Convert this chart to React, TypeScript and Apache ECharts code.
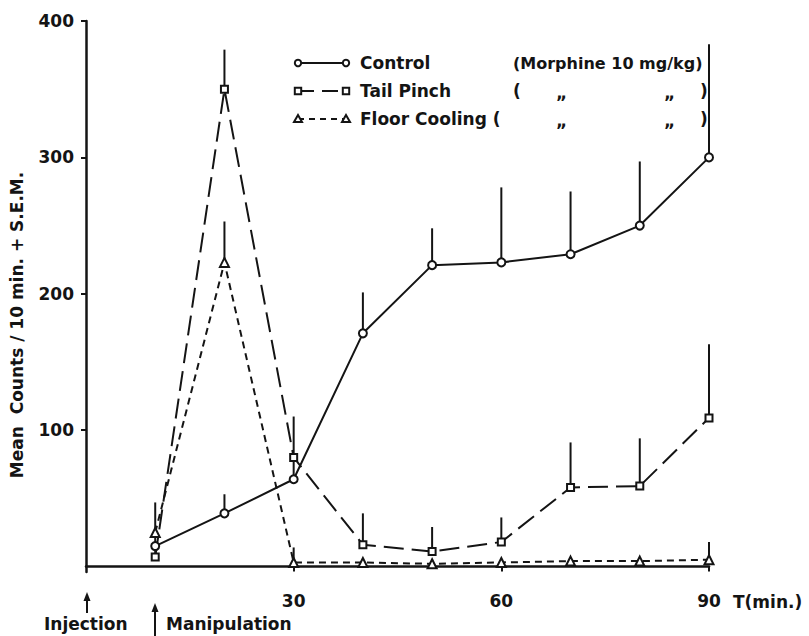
import React, { useEffect, useRef } from "react";
import * as echarts from "echarts";

const times = [10, 20, 30, 40, 50, 60, 70, 80, 90];
const controlMean = [15, 39, 64, 171, 221, 223, 229, 250, 300];
const controlTop = [null, 53, 82, 201, 248, 278, 275, 297, 383];
const tailMean = [7, 350, 80, 16, 11, 18, 58, 59, 109];
const tailTop = [47, 379, 110, 39, 29, 36, 91, 94, 163];
const floorMean = [25, 223, 3, 3, 2, 3, 4, 4, 5];
const floorTop = [null, 253, 14, null, null, null, null, null, 18];

const yTicks = [100, 200, 300, 400];
const xTicks = [30, 60, 90];

const INK = "#141414";
const FONT = "DejaVu Sans";

function errData(means: number[], tops: (number | null)[]) {
  const out: number[][] = [];
  times.forEach((t, i) => {
    const top = tops[i];
    if (top !== null && top !== undefined) out.push([t, means[i], top]);
  });
  return out;
}

function pts(means: number[]) {
  return times.map((t, i) => [t, means[i]]);
}

export default function App() {
  const ref = useRef<HTMLDivElement>(null);
  useEffect(() => {
    document.body.style.margin = "0";
    const chart = echarts.init(ref.current!, null, { renderer: "svg" });

    const errSeries = (name: string, means: number[], tops: (number | null)[]) => ({
      type: "custom",
      name,
      z: 1,
      data: errData(means, tops),
      encode: { x: 0, y: [1, 2] },
      renderItem: (params: any, api: any) => {
        const p1 = api.coord([api.value(0), api.value(1)]);
        const p2 = api.coord([api.value(0), api.value(2)]);
        return {
          type: "line",
          shape: { x1: p1[0], y1: p1[1], x2: p2[0], y2: p2[1] },
          style: { stroke: INK, lineWidth: 2 },
        };
      },
    });

    const marker = { color: "#fff", borderColor: INK, borderWidth: 2 };

    const legendRow = (y: number, dash: number[] | null, symbol: string) => {
      const els: any[] = [
        {
          type: "line",
          shape: { x1: 298, y1: y, x2: 346, y2: y },
          style: { stroke: INK, lineWidth: 2, lineDash: dash || undefined },
        },
      ];
      [298, 346].forEach((x) => {
        if (symbol === "circle")
          els.push({ type: "circle", shape: { cx: x, cy: y, r: 3.2 }, style: { fill: "#fff", stroke: INK, lineWidth: 2 } });
        else if (symbol === "rect")
          els.push({ type: "rect", shape: { x: x - 3.2, y: y - 3.2, width: 6.4, height: 6.4 }, style: { fill: "#fff", stroke: INK, lineWidth: 2 } });
        else
          els.push({ type: "polygon", shape: { points: [[x, y - 4], [x - 4, y + 3], [x + 4, y + 3]] }, style: { fill: "#fff", stroke: INK, lineWidth: 2 } });
      });
      return els;
    };

    const txt = (text: string, x: number, y: number, extra: any = {}) => ({
      type: "text",
      x,
      y,
      style: {
        text,
        fill: INK,
        font: `bold 17px '${FONT}'`,
        textAlign: "left",
        textVerticalAlign: "middle",
        ...extra,
      },
    });

    const arrow = (x: number, yHead: number, yTail: number) => [
      { type: "line", shape: { x1: x, y1: yHead + 4, x2: x, y2: yTail }, style: { stroke: INK, lineWidth: 2 } },
      { type: "polygon", shape: { points: [[x, yHead], [x - 3.5, yHead + 9], [x + 3.5, yHead + 9]] }, style: { fill: INK } },
    ];

    chart.setOption({
      animation: false,
      backgroundColor: "#fff",
      grid: { left: 86, right: 100, top: 21, bottom: 64 },
      xAxis: {
        type: "value",
        min: 0,
        max: 90,
        axisLine: { show: true, lineStyle: { color: INK, width: 2.5 } },
        axisTick: { show: true, length: 5, customValues: xTicks, lineStyle: { color: INK, width: 2 } },
        axisLabel: {
          customValues: xTicks,
          color: INK,
          fontFamily: FONT,
          fontWeight: "bold",
          fontSize: 17,
          margin: 20,
        },
        splitLine: { show: false },
      },
      yAxis: {
        type: "value",
        min: -4,
        max: 400,
        axisLine: { show: true, lineStyle: { color: INK, width: 2.5 } },
        axisTick: { show: true, length: 5, customValues: yTicks, lineStyle: { color: INK, width: 2 } },
        axisLabel: {
          customValues: yTicks,
          color: INK,
          fontFamily: FONT,
          fontWeight: "bold",
          fontSize: 17,
          margin: 12,
        },
        splitLine: { show: false },
      },
      series: [
        errSeries("controlErr", controlMean, controlTop),
        errSeries("tailErr", tailMean, tailTop),
        errSeries("floorErr", floorMean, floorTop),
        {
          type: "line",
          name: "Control",
          z: 3,
          data: pts(controlMean),
          symbol: "circle",
          symbolSize: 8,
          itemStyle: marker,
          lineStyle: { color: INK, width: 2, type: "solid" },
        },
        {
          type: "line",
          name: "Tail Pinch",
          z: 3,
          data: pts(tailMean),
          symbol: "rect",
          symbolSize: 7,
          itemStyle: marker,
          lineStyle: { color: INK, width: 2, type: [20, 8] },
        },
        {
          type: "line",
          name: "Floor Cooling",
          z: 3,
          data: pts(floorMean),
          symbol: "triangle",
          symbolSize: 9,
          itemStyle: marker,
          lineStyle: { color: INK, width: 2, type: [7, 5] },
        },
      ],
      graphic: [
        ...legendRow(63, null, "circle"),
        ...legendRow(91, [16, 8], "rect"),
        ...legendRow(119, [6, 5], "triangle"),
        txt("Control", 360, 63),
        txt("(Morphine 10 mg/kg)", 513, 63, { font: `bold 16px '${FONT}'` }),
        txt("Tail Pinch", 360, 91),
        txt("(", 513, 91),
        txt("„", 556, 93),
        txt("„", 664, 93),
        txt(")", 700, 91),
        txt("Floor Cooling (", 360, 119),
        txt("„", 556, 121),
        txt("„", 664, 121),
        txt(")", 700, 119),
        {
          type: "text",
          x: 17,
          y: 325,
          rotation: Math.PI / 2,
          style: {
            text: "Mean  Counts / 10 min. + S.E.M.",
            fill: INK,
            font: `bold 17px '${FONT}'`,
            textAlign: "center",
            textVerticalAlign: "middle",
          },
        },
        txt("T(min.)", 733, 602),
        ...arrow(87, 592, 613),
        ...arrow(155, 603, 636),
        txt("Injection", 44, 624),
        txt("Manipulation", 166, 624),
      ],
    });
    return () => chart.dispose();
  }, []);
  return <div ref={ref} style={{ width: 809, height: 636 }} />;
}
